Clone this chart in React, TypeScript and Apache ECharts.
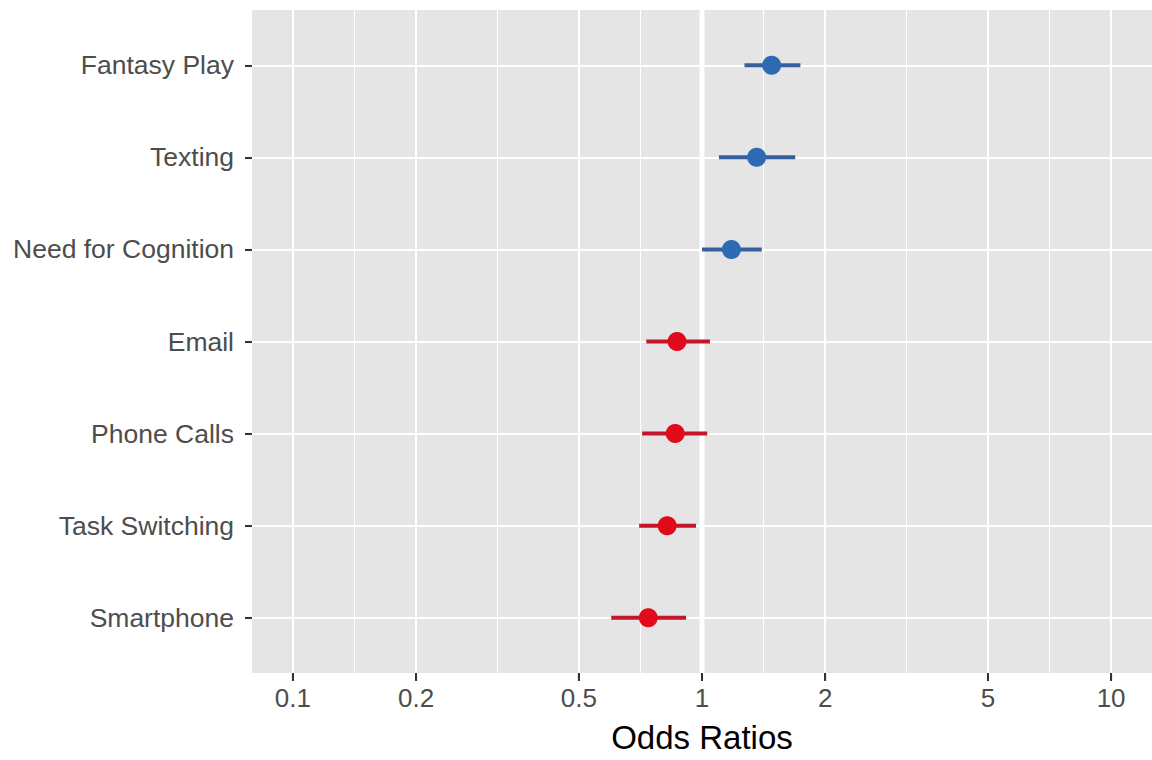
import React, { useEffect, useRef } from "react";
import * as echarts from "echarts";

// Categories ordered bottom (0) to top (6)
const categories = [
  "Smartphone",
  "Task Switching",
  "Phone Calls",
  "Email",
  "Need for Cognition",
  "Texting",
  "Fantasy Play",
];
const oddsRatios = [0.739, 0.822, 0.86, 0.869, 1.18, 1.36, 1.48];
const lowerCI = [0.6, 0.702, 0.714, 0.731, 1.0, 1.1, 1.27];
const upperCI = [0.914, 0.967, 1.03, 1.046, 1.4, 1.69, 1.74];
const groups = ["neg", "neg", "neg", "neg", "pos", "pos", "pos"];

const xTickValues = [0.1, 0.2, 0.5, 1, 2, 5, 10];
const xTickLabels = ["0.1", "0.2", "0.5", "1", "2", "5", "10"];
const xMinorValues = [0.1414, 0.3162, 0.7071, 1.4142, 3.1623, 7.0711];
const xLimits = [0.1, 10];
const referenceValue = 1;

const BLUE_POINT = "#2c6bb2";
const BLUE_BAR = "#36609c";
const RED_POINT = "#e00a1a";
const RED_BAR = "#c4162a";
const FONT = '"Liberation Sans", Arial, Helvetica, sans-serif';

export default function App() {
  const ref = useRef<HTMLDivElement>(null);

  useEffect(() => {
    if (!ref.current) return;
    const chart = echarts.init(ref.current, null, { renderer: "svg" });

    const logMin = Math.log10(xLimits[0]);
    const logMax = Math.log10(xLimits[1]);
    const pad = (logMax - logMin) * 0.05;
    const lo = logMin - pad;
    const hi = logMax + pad;

    const yMin = -0.6;
    const yMax = categories.length - 1 + 0.6;
    const yIdx = categories.map((_, i) => i);

    const pointData = categories.map((_, i) => ({
      value: [oddsRatios[i], i],
      itemStyle: { color: groups[i] === "pos" ? BLUE_POINT : RED_POINT, opacity: 1 },
    }));
    const barData = categories.map((_, i) => [lowerCI[i], i, upperCI[i], groups[i] === "pos" ? 1 : 0]);

    const majorLog = xTickValues.map((v) => Math.log10(v));

    const option: any = {
      animation: false,
      grid: {
        left: 252,
        right: 0,
        top: 10,
        bottom: 87,
        show: true,
        backgroundColor: "#e5e5e5",
        borderWidth: 0,
      },
      xAxis: [
        {
          type: "value",
          min: lo,
          max: hi,
          position: "bottom",
          axisLine: { show: false, onZero: false },
          axisTick: {
            show: true,
            length: 7,
            lineStyle: { color: "#333333", width: 2 },
            customValues: majorLog,
          },
          axisLabel: {
            show: true,
            margin: 12,
            color: "#4d4d4d",
            fontSize: 26,
            fontFamily: FONT,
            customValues: majorLog,
            formatter: (v: number) => {
              let best = 0;
              majorLog.forEach((t, i) => {
                if (Math.abs(t - v) < Math.abs(majorLog[best] - v)) best = i;
              });
              return xTickLabels[best];
            },
          },
          splitLine: { show: true, lineStyle: { color: "#ffffff", width: 2 } },
          name: "Odds Ratios",
          nameLocation: "middle",
          nameGap: 48,
          nameTextStyle: { color: "#000000", fontSize: 33, fontFamily: FONT },
        },
        {
          type: "log",
          logBase: 10,
          min: Math.pow(10, lo),
          max: Math.pow(10, hi),
          position: "top",
          axisLine: { show: false, onZero: false },
          axisTick: { show: false },
          axisLabel: { show: false },
          splitLine: { show: false },
        },
        {
          type: "value",
          min: lo,
          max: hi,
          position: "top",
          axisLine: { show: false, onZero: false },
          axisTick: { show: false, customValues: xMinorValues.map((v) => Math.log10(v)) },
          axisLabel: { show: false },
          splitLine: { show: true, lineStyle: { color: "#ffffff", width: 1 } },
        },
      ],
      yAxis: {
        type: "value",
        min: yMin,
        max: yMax,
        axisLine: { show: false, onZero: false },
        axisTick: {
          show: true,
          length: 7,
          lineStyle: { color: "#333333", width: 2 },
          customValues: yIdx,
        },
        axisLabel: {
          show: true,
          margin: 18,
          color: "#4d4d4d",
          fontSize: 26.5,
          fontFamily: FONT,
          customValues: yIdx,
          formatter: (v: number) => categories[Math.round(v)] ?? "",
        },
        splitLine: { show: true, lineStyle: { color: "#ffffff", width: 2 } },
      },
      series: [
        {
          type: "line",
          xAxisIndex: 1,
          z: 1,
          symbol: "none",
          silent: true,
          data: [
            [referenceValue, yMin],
            [referenceValue, yMax],
          ],
          lineStyle: { color: "#ffffff", width: 5 },
        },
        {
          type: "custom",
          xAxisIndex: 1,
          z: 2,
          data: barData,
          encode: { x: [0, 2], y: 1 },
          renderItem: (params: any, api: any) => {
            const y = api.value(1);
            const a = api.coord([api.value(0), y]);
            const b = api.coord([api.value(2), y]);
            const color = api.value(3) === 1 ? BLUE_BAR : RED_BAR;
            return {
              type: "line",
              shape: { x1: a[0], y1: a[1], x2: b[0], y2: b[1] },
              style: { stroke: color, lineWidth: 4 },
            };
          },
        },
        {
          type: "scatter",
          xAxisIndex: 1,
          z: 3,
          symbol: "circle",
          symbolSize: 19,
          itemStyle: { opacity: 1 },
          data: pointData,
        },
      ],
    };

    chart.setOption(option);

    // x-axis tick marks, placed through the chart's own scale
    const tickGraphics = xTickValues.map((v) => {
      const p = chart.convertToPixel({ xAxisIndex: 1, yAxisIndex: 0 } as any, [v, yMin]) as number[];
      return {
        type: "line",
        z: 100,
        silent: true,
        shape: { x1: p[0], y1: p[1] + 1, x2: p[0], y2: p[1] + 8 },
        style: { stroke: "#333333", lineWidth: 2 },
      };
    });
    chart.setOption({ graphic: { elements: tickGraphics } });

    return () => chart.dispose();
  }, []);

  return (
    <div
      ref={ref}
      style={{ position: "fixed", left: 0, top: 0, width: 1152, height: 760, background: "#ffffff" }}
    />
  );
}
